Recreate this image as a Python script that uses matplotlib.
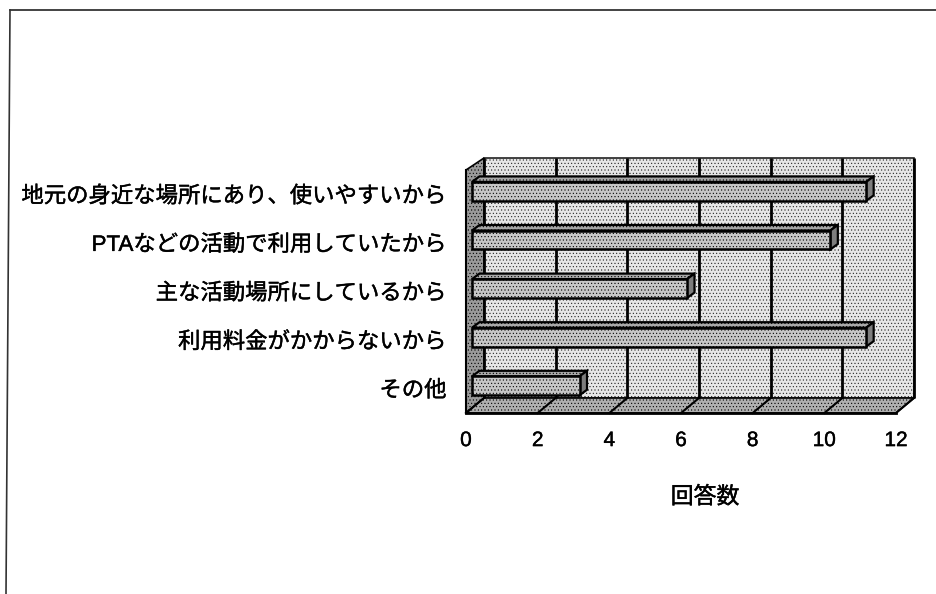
import numpy as np
import matplotlib
matplotlib.use("Agg")
import matplotlib.pyplot as plt
import matplotlib.patheffects as pe
from matplotlib.lines import Line2D
from matplotlib.patches import Polygon

plt.rcParams['font.family'] = ['Liberation Sans', 'Noto Sans CJK JP', 'DejaVu Sans']
plt.rcParams['hatch.linewidth'] = 0.4

categories = ['地元の身近な場所にあり、使いやすいから', 'PTAなどの活動で利用していたから',
              '主な活動場所にしているから', '利用料金がかからないから', 'その他']
values = [11, 10, 6, 11, 3]
xticks = [0, 2, 4, 6, 8, 10, 12]
xlabel = '回答数'

W, H = 936, 594
fig = plt.figure(figsize=(W / 100, H / 100), dpi=100)

# scanned frame: only top and left edges show, the left one leans a little
fig.add_artist(Line2D([10 / W, 1], [1 - 10 / H, 1 - 10 / H], color='#222222', lw=1.2))
fig.add_artist(Line2D([10 / W, 6 / W], [1 - 10 / H, 0], color='#333333', lw=1.2))

# front plane of the 3d box, in pixels
left, right, top, bottom = 466, 896, 170, 413
ax = fig.add_axes([left / W, 1 - bottom / H, (right - left) / W, (bottom - top) / H])
ax.set_xlim(0, 12)
ax.set_ylim(len(categories), 0)
ax.patch.set_visible(False)
for s in ax.spines.values():
    s.set_visible(False)

# depth of the box and of the bars, data units
dx = 18 / 35.83
dy_top = 12 / 48.6
dy_bot = 15 / 48.6
bar_dx = 7.5 / 35.83
bar_dy = 5.5 / 48.6
bar_x0 = 6 / 35.83
bar_h = 0.39
n = len(categories)


def poly(pts, fc, ec='black', lw=1.2, hatch=None, z=1):
    p = Polygon(pts, closed=True, fc=fc, ec=ec, lw=lw, hatch=hatch, zorder=z, clip_on=False)
    ax.add_patch(p)


# back wall, side wall, floor
poly([(dx, n - dy_bot), (12 + dx, n - dy_bot), (12 + dx, -dy_top), (dx, -dy_top)], '#e6e6e6', ec='#222222', hatch='.....', z=1)
poly([(0, n), (dx, n - dy_bot), (dx, -dy_top), (0, 0)], '#9a9a9a', hatch='.....', z=1)
poly([(0, n), (12, n), (12 + dx, n - dy_bot), (dx, n - dy_bot)], '#b0b0b0', hatch='.....', z=1)

# gridlines on the wall and floor
for t in xticks:
    ax.plot([t + dx, t + dx], [-dy_top, n - dy_bot], color='black', lw=2, zorder=2, clip_on=False, solid_capstyle='butt')
    ax.plot([t, t + dx], [n, n - dy_bot], color='black', lw=1.5, zorder=2, clip_on=False)

# bars
for i, v in enumerate(values):
    yc = i + 0.5 - 0.06
    y0, y1 = yc - bar_h / 2, yc + bar_h / 2
    x0, x1 = bar_x0, bar_x0 + v
    poly([(x0, y0), (x0 + bar_dx, y0 - bar_dy), (x1 + bar_dx, y0 - bar_dy), (x1, y0)], '#a8a8a8', lw=1.6, hatch='.....', z=3)
    poly([(x1, y0), (x1 + bar_dx, y0 - bar_dy), (x1 + bar_dx, y1 - bar_dy), (x1, y1)], '#7d7d7d', lw=1.6, z=3)
    poly([(x0, y0), (x1, y0), (x1, y1), (x0, y1)], '#c6c6c6', lw=1.8, hatch='.....', z=4)

# front edges
ax.plot([0, 12], [n, n], color='black', lw=2, zorder=5, clip_on=False)
ax.plot([0, 0], [0, n], color='black', lw=1.5, zorder=5, clip_on=False)

ax.set_xticks(xticks)
ax.set_yticks(np.arange(n) + 0.5)
ax.set_yticklabels(categories, fontsize=16.1)
ax.tick_params(axis='x', length=0, pad=13, labelsize=15)
ax.tick_params(axis='y', length=0, pad=14)
ax.set_xlabel(xlabel, fontsize=16.5, va='center')
ax.xaxis.set_label_coords((705 - left) / (right - left), (413 - 497) / (bottom - top))

# scan makes the type look heavier
for t in ax.get_xticklabels() + ax.get_yticklabels() + [ax.xaxis.label]:
    t.set_path_effects([pe.withStroke(linewidth=0.3, foreground='black')])

fig.savefig('out.png', dpi=100)
